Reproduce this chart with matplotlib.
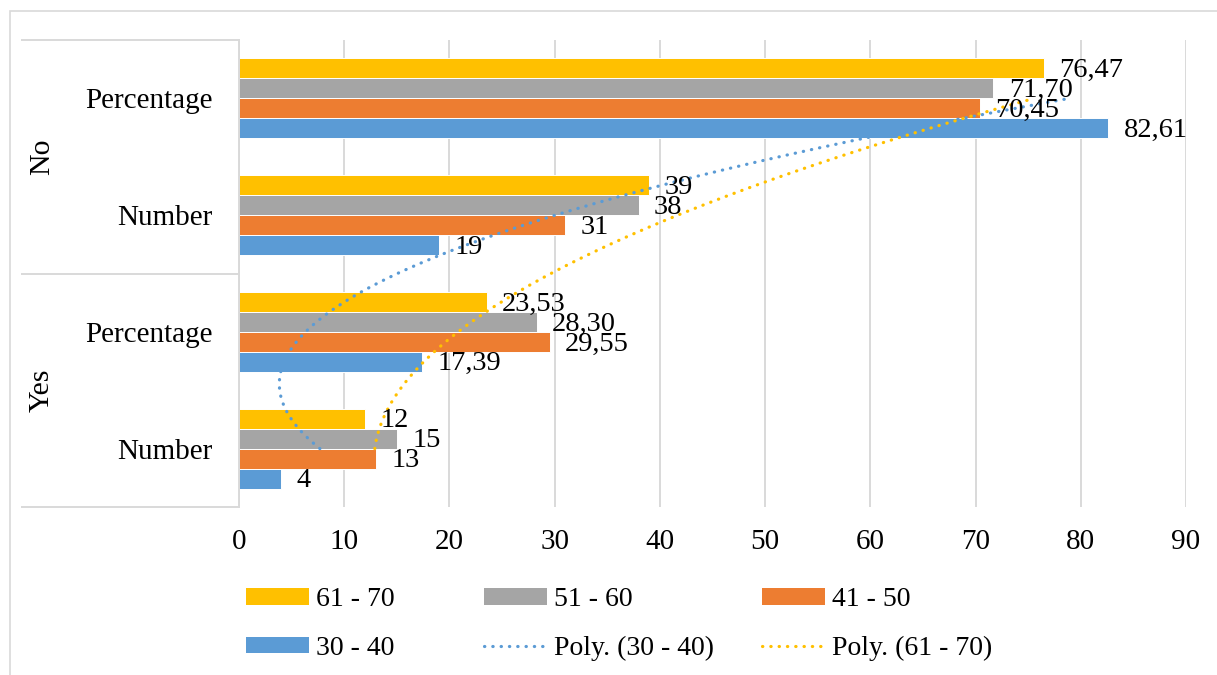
import matplotlib
matplotlib.use("Agg")
import matplotlib.pyplot as plt
import numpy as np
from matplotlib.patches import Patch, Rectangle
from matplotlib.lines import Line2D
from matplotlib.transforms import blended_transform_factory

plt.rcParams["font.family"] = ["Liberation Serif", "DejaVu Serif"]

# categories, bottom to top
inner_labels = ["Number", "Percentage", "Number", "Percentage"]
outer_labels = ["Yes", "No"]
is_pct = [False, True, False, True]

series = ["30 - 40", "41 - 50", "51 - 60", "61 - 70"]
v_30_40 = [4, 17.39, 19, 82.61]
v_41_50 = [13, 29.55, 31, 70.45]
v_51_60 = [15, 28.30, 38, 71.70]
v_61_70 = [12, 23.53, 39, 76.47]
values = [v_30_40, v_41_50, v_51_60, v_61_70]
colors = ["#5B9BD5", "#ED7D31", "#A5A5A5", "#FFC000"]

W, H = 1217, 675
fig = plt.figure(figsize=(W / 100, H / 100), dpi=100)
fig.patch.set_facecolor("white")

# chart border (top/left visible, rest runs off the canvas)
fig.patches.append(Rectangle((10 / W, -0.1), 1.2, 1 - 11 / H + 0.1, transform=fig.transFigure,
                             fill=False, edgecolor="#d9d9d9", lw=1.2))

x0, x1, y0, y1 = 239, 1186, 40, 507
ax = fig.add_axes([x0 / W, 1 - y1 / H, (x1 - x0) / W, (y1 - y0) / H])

cat = np.arange(len(inner_labels))
h = 0.171
for i, (vals, col) in enumerate(zip(values, colors)):
    ys = cat + (i - 1.5) * h
    ax.barh(ys, vals, height=h, color=col, edgecolor="white", linewidth=0.7, zorder=2)
    for y, v, p in zip(ys, vals, is_pct):
        txt = f"{v:.2f}".replace(".", ",") if p else f"{v:g}"
        ax.annotate(txt, (v, y), xytext=(11, -1.5), textcoords="offset points",
                    ha="left", va="center", fontsize=20.5, color="black", zorder=5)

# polynomial (order 2) trendlines, as Excel draws them
xs = np.linspace(0, 3, 300)
for vals, col in [(v_30_40, colors[0]), (v_61_70, colors[3])]:
    coef = np.polyfit(cat, vals, 2)
    ax.plot(np.polyval(coef, xs), xs, color=col, lw=2.3, linestyle=(0, (0.1, 2.5)),
            dash_capstyle="round", zorder=4)

ax.set_xlim(0, 90)
ax.set_ylim(-0.5, 3.5)
ax.set_xticks(np.arange(0, 91, 10))
ax.grid(axis="x", color="#d9d9d9", lw=1.4, zorder=0)
ax.set_axisbelow(True)
for s in ["top", "right", "bottom"]:
    ax.spines[s].set_visible(False)
ax.spines["left"].set_color("#d9d9d9")
ax.spines["left"].set_linewidth(1.4)

ax.set_yticks(cat)
ax.set_yticklabels(inner_labels)
ax.tick_params(axis="y", length=0, pad=19, labelsize=21)
ax.tick_params(axis="x", length=0, pad=16, labelsize=21)

# hierarchical category axis lines and outer labels
for yy in [0, 0.5, 1]:
    ax.plot([(22 - x0) / (x1 - x0), 0], [yy, yy], transform=ax.transAxes,
            color="#d9d9d9", lw=1.4, clip_on=False)
tr = blended_transform_factory(ax.transAxes, ax.transData)
for k, lab in enumerate(outer_labels):
    ax.text((42 - x0) / (x1 - x0), 0.5 + 2 * k, lab, transform=tr, rotation=90,
            ha="center", va="center", fontsize=21.5)

# legend, laid out in three columns like Excel
bar_h = {s: Patch(facecolor=c, edgecolor="none") for s, c in zip(series, colors)}
poly_30 = Line2D([], [], color=colors[0], lw=2.3, linestyle=(0, (0.1, 2.5)), dash_capstyle="round")
poly_61 = Line2D([], [], color=colors[3], lw=2.3, linestyle=(0, (0.1, 2.5)), dash_capstyle="round")
columns = [
    (246, [bar_h["61 - 70"], bar_h["30 - 40"]], ["61 - 70", "30 - 40"]),
    (484, [bar_h["51 - 60"], poly_30], ["51 - 60", "Poly. (30 - 40)"]),
    (762, [bar_h["41 - 50"], poly_61], ["41 - 50", "Poly. (61 - 70)"]),
]
for xpx, hs, ls in columns:
    fig.legend(hs, ls, loc="upper left", bbox_to_anchor=(xpx / W, 1 - 587 / H),
               frameon=False, fontsize=20, borderpad=0, borderaxespad=0,
               handlelength=2.27, handleheight=0.55, handletextpad=0.25,
               labelspacing=0.86)

fig.savefig("out.png", dpi=100, facecolor="white")
